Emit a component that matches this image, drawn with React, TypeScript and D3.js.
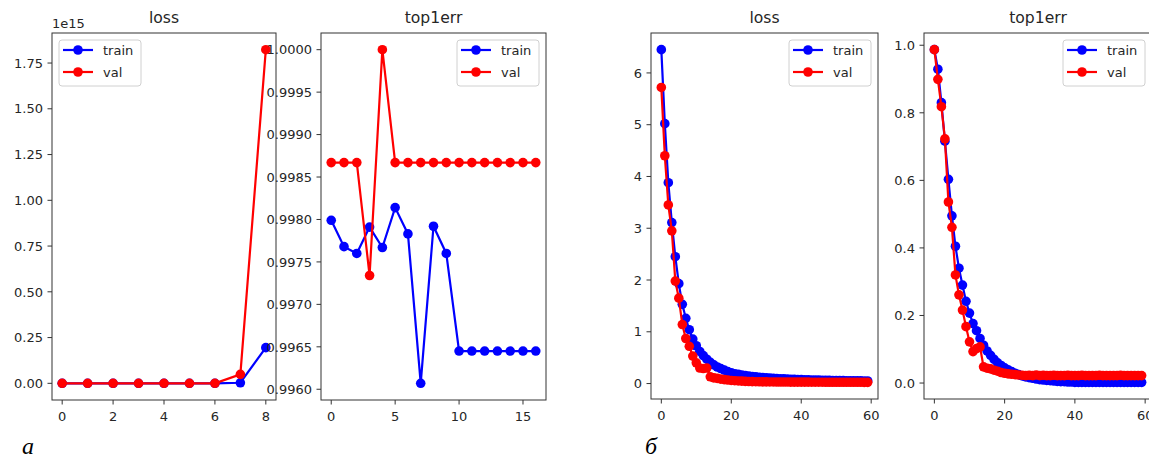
import React from 'react';
import * as d3 from 'd3';

// (а) — run that diverged; loss is in units of 1e15
const lossTrainA = [0, 0, 0, 0, 0, 0, 0, 0.003, 0.195];
const lossValA = [0, 0, 0, 0, 0, 0, 0, 0.049, 1.823];
const errTrainA = [0.99799, 0.99768, 0.9976, 0.99791, 0.99767, 0.99814, 0.99783, 0.99607, 0.99792, 0.9976,
  0.99645, 0.99645, 0.99645, 0.99645, 0.99645, 0.99645, 0.99645];
const errValA = [0.99867, 0.99867, 0.99867, 0.99734, 1.0, 0.99867, 0.99867, 0.99867, 0.99867, 0.99867,
  0.99867, 0.99867, 0.99867, 0.99867, 0.99867, 0.99867, 0.99867];

// (б) — run that converged, 60 epochs
const lossTrainB = [6.45, 5.02, 3.88, 3.11, 2.45, 1.93, 1.53, 1.26, 1.04, 0.86,
  0.73, 0.62, 0.54, 0.47, 0.41, 0.36, 0.32, 0.29, 0.26, 0.23,
  0.21, 0.19, 0.18, 0.165, 0.155, 0.145, 0.135, 0.13, 0.12, 0.115,
  0.11, 0.105, 0.1, 0.097, 0.094, 0.09, 0.087, 0.084, 0.081, 0.078,
  0.076, 0.074, 0.072, 0.07, 0.068, 0.066, 0.064, 0.062, 0.061, 0.06,
  0.058, 0.057, 0.056, 0.055, 0.054, 0.053, 0.052, 0.051, 0.05, 0.05];
const lossValB = [5.72, 4.4, 3.45, 2.95, 1.98, 1.65, 1.14, 0.87, 0.72, 0.53,
  0.4, 0.3, 0.29, 0.3, 0.13, 0.11, 0.1, 0.085, 0.075, 0.068,
  0.06, 0.055, 0.05, 0.046, 0.043, 0.04, 0.038, 0.036, 0.034, 0.033,
  0.032, 0.031, 0.031, 0.03, 0.03, 0.029, 0.029, 0.028, 0.028, 0.028,
  0.027, 0.027, 0.027, 0.026, 0.026, 0.026, 0.026, 0.025, 0.025, 0.025,
  0.025, 0.025, 0.024, 0.024, 0.024, 0.024, 0.024, 0.024, 0.023, 0.023];
const errTrainB = [0.987, 0.929, 0.83, 0.716, 0.603, 0.495, 0.405, 0.34, 0.29, 0.242,
  0.207, 0.176, 0.155, 0.132, 0.112, 0.095, 0.082, 0.07, 0.06, 0.052,
  0.045, 0.039, 0.034, 0.029, 0.025, 0.021, 0.018, 0.016, 0.014, 0.012,
  0.01, 0.009, 0.008, 0.007, 0.006, 0.005, 0.004, 0.004, 0.003, 0.003,
  0.002, 0.002, 0.002, 0.002, 0.002, 0.002, 0.002, 0.002, 0.002, 0.002,
  0.002, 0.002, 0.002, 0.002, 0.002, 0.002, 0.002, 0.002, 0.002, 0.002];
const errValB = [0.987, 0.899, 0.818, 0.723, 0.536, 0.461, 0.32, 0.261, 0.216, 0.167,
  0.122, 0.093, 0.102, 0.107, 0.048, 0.044, 0.042, 0.038, 0.035, 0.031,
  0.029, 0.027, 0.026, 0.025, 0.024, 0.023, 0.022, 0.023, 0.022, 0.024,
  0.022, 0.023, 0.022, 0.022, 0.023, 0.022, 0.022, 0.022, 0.023, 0.022,
  0.022, 0.022, 0.023, 0.022, 0.022, 0.022, 0.022, 0.023, 0.022, 0.022,
  0.022, 0.022, 0.022, 0.023, 0.022, 0.022, 0.022, 0.022, 0.022, 0.022];

const xTicksA1 = [0, 2, 4, 6, 8];
const yTicksA1 = [0, 0.25, 0.5, 0.75, 1.0, 1.25, 1.5, 1.75];
const xTicksA2 = [0, 5, 10, 15];
const yTicksA2 = [0.996, 0.9965, 0.997, 0.9975, 0.998, 0.9985, 0.999, 0.9995, 1.0];
const xTicksB = [0, 20, 40, 60];
const yTicksB1 = [0, 1, 2, 3, 4, 5, 6];
const yTicksB2 = [0, 0.2, 0.4, 0.6, 0.8, 1.0];

const seriesNames = ['train', 'val'];
const seriesColors = ['#0000ff', '#ff0000'];

const FONT = '"DejaVu Sans", sans-serif';
const TICK = '#262626';
const R = 4.8;

type PanelProps = {
  title: string;
  series: number[][];
  left: number;
  right: number;
  top: number;
  bottom: number;
  xTicks: number[];
  yTicks: number[];
  yFmt: (v: number) => string;
  legendLeft?: boolean;
  offsetText?: string;
};

function padded(lo: number, hi: number): [number, number] {
  const m = (hi - lo) * 0.05;
  return [lo - m, hi + m];
}

function Panel(p: PanelProps) {
  const n = p.series[0].length;
  const all = p.series.flat();
  const x = d3.scaleLinear().domain(padded(0, n - 1)).range([p.left, p.right]);
  const y = d3.scaleLinear().domain(padded(d3.min(all)!, d3.max(all)!)).range([p.bottom, p.top]);
  const line = d3.line<number>().x((_, i) => x(i)).y(d => y(d));

  const lw = 82, lh = 46;
  const lx = p.legendLeft ? p.left + 7 : p.right - 7 - lw;
  const ly = p.top + 7;

  return (
    <g>
      <text x={(p.left + p.right) / 2} y={23} textAnchor="middle" fontSize={15.6} fill={TICK} fontFamily={FONT}>{p.title}</text>
      {p.offsetText && (
        <text x={p.left} y={28} fontSize={13} fill={TICK} fontFamily={FONT}>{p.offsetText}</text>
      )}
      {p.series.map((s, k) => (
        <g key={k}>
          <path d={line(s)!} fill="none" stroke={seriesColors[k]} strokeWidth={2.2} />
          {s.map((v, i) => (
            <circle key={i} cx={x(i)} cy={y(v)} r={R} fill={seriesColors[k]} />
          ))}
        </g>
      ))}
      <rect x={p.left} y={p.top} width={p.right - p.left} height={p.bottom - p.top} fill="none" stroke="#333" strokeWidth={1} />
      {p.xTicks.map(t => (
        <g key={t} transform={`translate(${x(t)},${p.bottom})`}>
          <line y2={4.5} stroke="#333" />
          <text y={21} textAnchor="middle" fontSize={13} fill={TICK} fontFamily={FONT}>{t}</text>
        </g>
      ))}
      {p.yTicks.map(t => (
        <g key={t} transform={`translate(${p.left},${y(t)})`}>
          <line x2={-4.5} stroke="#333" />
          <text x={-9} y={4.7} textAnchor="end" fontSize={13} fill={TICK} fontFamily={FONT}>{p.yFmt(t)}</text>
        </g>
      ))}
      <rect x={lx} y={ly} width={lw} height={lh} rx={3} fill="#fff" fillOpacity={0.8} stroke="#d0d0d0" />
      {seriesNames.map((name, k) => (
        <g key={name} transform={`translate(${lx},${ly + 10 + k * 22})`}>
          <line x1={4} x2={34} stroke={seriesColors[k]} strokeWidth={2.2} />
          <circle cx={19} cy={0} r={R} fill={seriesColors[k]} />
          <text x={44} y={4.7} fontSize={13} fill={TICK} fontFamily={FONT}>{name}</text>
        </g>
      ))}
    </g>
  );
}

export default function App() {
  const f2 = d3.format('.2f');
  const f4 = d3.format('.4f');
  const f1 = d3.format('.1f');
  const f0 = d3.format('d');
  return (
    <svg width={1149} height={459} style={{ position: 'absolute', left: 0, top: 0, background: '#fff' }}>
      <rect width={1149} height={459} fill="#fff" />
      <Panel title="loss" series={[lossTrainA, lossValA]} left={52} right={276} top={33} bottom={400}
        xTicks={xTicksA1} yTicks={yTicksA1} yFmt={f2} legendLeft offsetText="1e15" />
      <Panel title="top1err" series={[errTrainA, errValA]} left={321} right={546} top={33} bottom={400}
        xTicks={xTicksA2} yTicks={yTicksA2} yFmt={f4} />
      <Panel title="loss" series={[lossTrainB, lossValB]} left={651} right={878} top={33} bottom={399}
        xTicks={xTicksB} yTicks={yTicksB1} yFmt={f0} />
      <Panel title="top1err" series={[errTrainB, errValB]} left={924} right={1152} top={33} bottom={399}
        xTicks={xTicksB} yTicks={yTicksB2} yFmt={f1} />
      <text x={22} y={454} fontSize={24} fontStyle="italic" fontFamily='"Liberation Serif", serif' fill="#000">а</text>
      <text x={645} y={454} fontSize={24} fontStyle="italic" fontFamily='"Liberation Serif", serif' fill="#000">б</text>
    </svg>
  );
}
